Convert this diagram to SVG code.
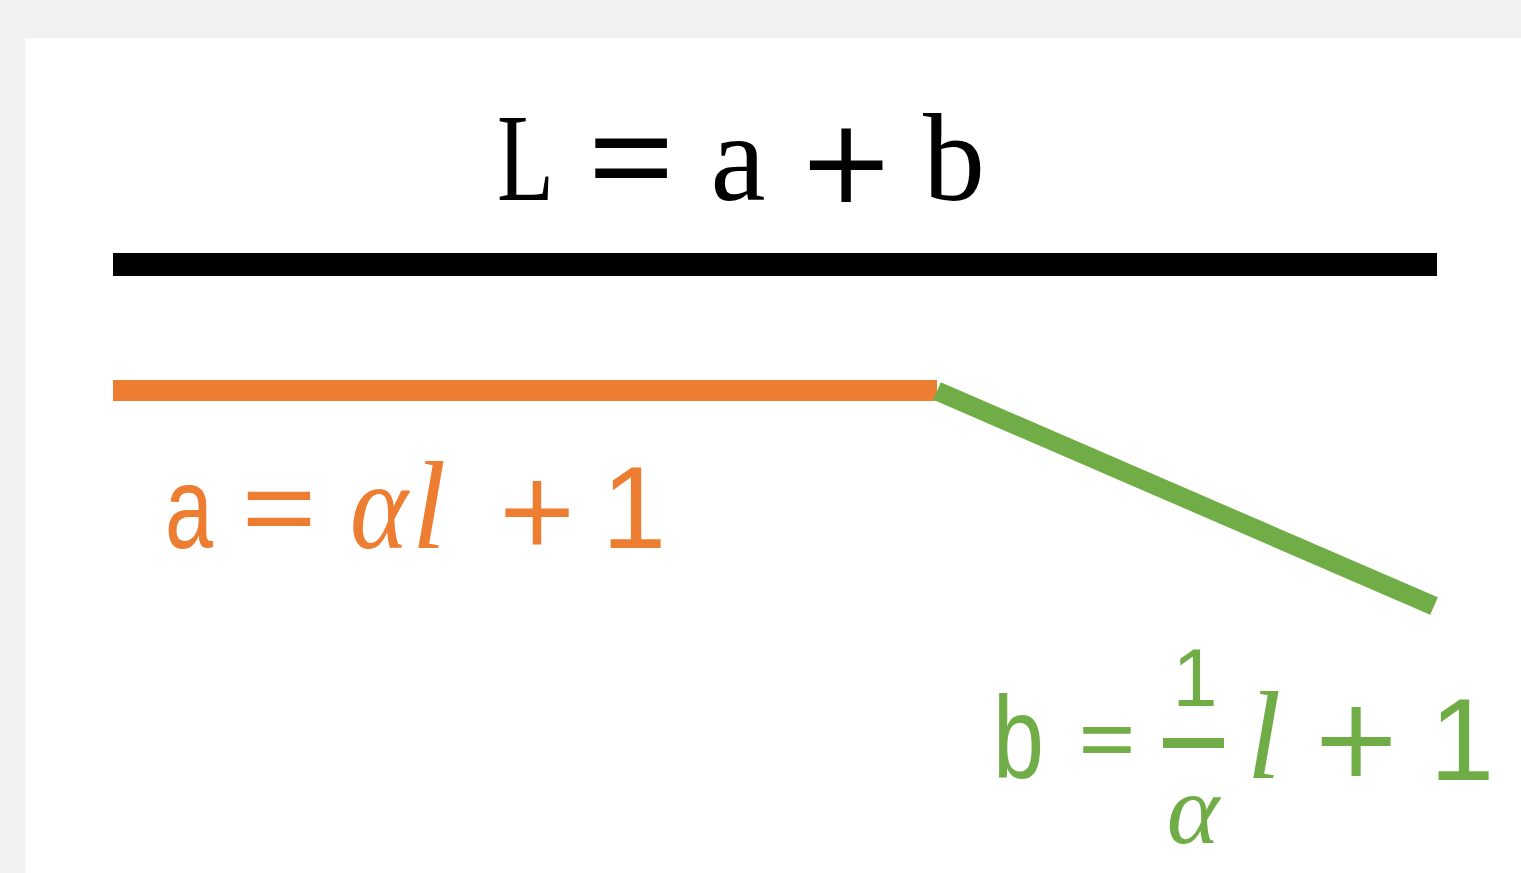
<svg xmlns="http://www.w3.org/2000/svg" width="1521" height="873" viewBox="0 0 1521 873">
<style>
.serif{font-family:"Liberation Serif","DejaVu Serif",serif;text-anchor:middle}
.sans{font-family:"Liberation Sans","DejaVu Sans",sans-serif;text-anchor:middle}
.st{text-anchor:start}
.it{font-style:italic}
.blk{fill:#000;stroke:#000}
.org{fill:#ED7D31;stroke:#ED7D31}
.grn{fill:#70AD47;stroke:#70AD47}
.blk text,.org text,.grn text{stroke-width:0}
.blk text.op,.org text.op,.grn text.op{stroke-width:1.8}
</style>
<rect x="0" y="0" width="1521" height="873" fill="#F2F2F2"/>
<rect x="25" y="38" width="1496" height="835" fill="#FFFFFF"/>
<g id="connectors">
<rect x="113" y="253" width="1324" height="23" fill="#000"/>
<rect x="113" y="380" width="824" height="21" fill="#ED7D31"/>
<line x1="937" y1="391" x2="1434" y2="606" stroke="#70AD47" stroke-width="19"/>
</g>
<g id="label-L" class="blk">
<text class="serif st" x="497" y="200" font-size="124" textLength="57" lengthAdjust="spacingAndGlyphs">L</text>
<text class="serif op" x="631" y="208" font-size="150">=</text>
<text class="serif" x="738" y="200" font-size="124">a</text>
<text class="serif op" x="846" y="216" font-size="152">+</text>
<text class="serif" x="954" y="200" font-size="124">b</text>
</g>
<g id="label-a" class="org">
<text class="sans st" x="165" y="548" font-size="116" textLength="48" lengthAdjust="spacingAndGlyphs">a</text>
<text class="serif op" x="279" y="552" font-size="130">=</text>
<text class="serif it st" x="350" y="548" font-size="124" textLength="58" lengthAdjust="spacingAndGlyphs">α</text>
<text class="serif it" x="429" y="548" font-size="124">l</text>
<text class="serif op" x="537" y="556" font-size="132">+</text>
<text class="sans" x="634" y="548" font-size="116">1</text>
</g>
<g id="label-b" class="grn">
<text class="sans st" x="993" y="778" font-size="116" textLength="51" lengthAdjust="spacingAndGlyphs">b</text>
<text class="serif op" x="1107" y="772" font-size="98">=</text>
<text class="sans" x="1195" y="706" font-size="81">1</text>
<rect x="1163" y="738" width="61" height="10" stroke="none"/>
<text class="serif it" x="1193" y="843" font-size="100">α</text>
<text class="serif it" x="1264" y="778" font-size="124">l</text>
<text class="serif op" x="1356" y="789" font-size="144">+</text>
<text class="sans" x="1462" y="780" font-size="116">1</text>
</g>
</svg>
